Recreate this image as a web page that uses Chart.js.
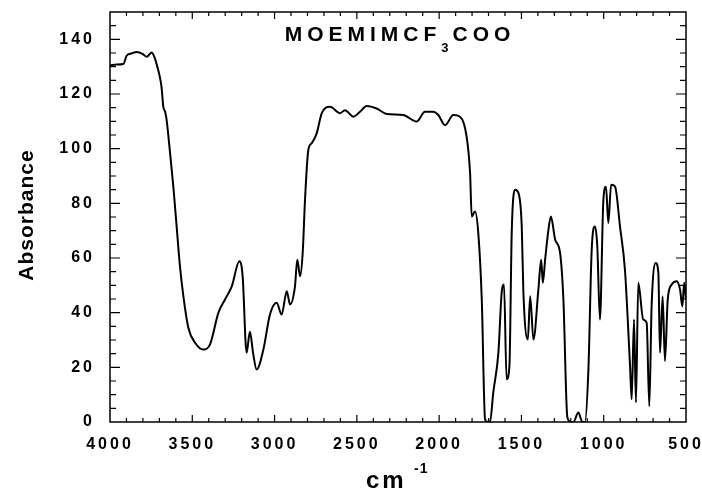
<!DOCTYPE html>
<html>
<head>
<meta charset="utf-8">
<script src="https://cdn.jsdelivr.net/npm/chart.js@4"></script>
<style>
  html, body { margin: 0; padding: 0; background: #fff; }
  #wrap { width: 702px; height: 492px; }
</style>
</head>
<body>
<div id="wrap"><canvas id="chartIR"></canvas></div>
<script>
// ===== DADOS =====
const wavenumbers = [4000, 3960, 3919, 3899, 3870, 3838, 3800, 3777, 3747, 3730, 3717, 3700, 3687, 3676, 3665, 3656,
  3635, 3615, 3595, 3575, 3554, 3524, 3483, 3433, 3392, 3341, 3301, 3260, 3214, 3194, 3170, 3150, 3130, 3109,
  3068, 3028, 2987, 2957, 2926, 2906, 2876, 2862, 2845, 2829, 2815, 2795, 2774, 2744, 2713, 2663, 2602, 2572,
  2521, 2481, 2440, 2380, 2319, 2218, 2137, 2086, 2035, 2005, 1964, 1914, 1873, 1833, 1812, 1802, 1782, 1762,
  1741, 1721, 1705, 1691, 1671, 1640, 1620, 1606, 1590, 1573, 1559, 1539, 1518, 1498, 1488, 1461, 1447, 1427,
  1397, 1380, 1370, 1356, 1336, 1321, 1295, 1265, 1245, 1221, 1200, 1184, 1154, 1130, 1114, 1093, 1073, 1053,
  1039, 1023, 1002, 986, 972, 955, 931, 901, 871, 840, 830, 816, 804, 790, 760, 739, 723, 709, 684, 668, 658,
  642, 628, 611, 587, 557, 536, 522, 511, 500];
const absorbance = [130.5, 130.8, 131, 134, 134.8, 135.4, 134.6, 133.6, 135.2, 133.5, 131, 127, 122.6, 115.3, 113.5, 110.5,
  98.4, 86, 71.5, 57, 46, 34.5, 29, 26.5, 28.4, 40, 44.8, 49.6, 58.8, 53.3, 25.3, 33, 25, 19.2,
  26.5, 39.3, 43.6, 39.3, 47.8, 43, 49.6, 59.4, 53.3, 62, 81.3, 99.5, 102, 105.6, 113, 115.3, 113, 114.1,
  111.7, 113.5, 115.6, 114.7, 112.7, 112.3, 109.9, 113.5, 113.5, 112.3, 108.6, 112.3, 111.7, 104.4, 91, 75.2, 77, 69,
  44.8, 1, 0, 0, 10.8, 25.4, 47.3, 50.3, 15.6, 20.4, 69.2, 85, 83.8, 71.5, 47.3, 30.2, 46, 30.2,
  48.4, 59.4, 50.9, 59.4, 70.3, 75.2, 66.7, 61.8, 44.8, 1.7, 0, 0, 3.5, 0, 0, 19.2, 63, 71.5,
  64.2, 37.5, 81.3, 86.1, 72.8, 86.8, 86.1, 71.5, 55.7, 20.4, 8.3, 37.5, 7.1, 50.9, 37.5, 36.3, 5.8, 42.3, 58.2, 54.5, 25.3,
  46, 22.3, 44.8, 50.3, 51.5, 48.4, 42.3, 50.9, 44.8];
const xTicks = [4000, 3500, 3000, 2500, 2000, 1500, 1000, 500];
const yTicks = [0, 20, 40, 60, 80, 100, 120, 140];
const titleMain = 'MOEMIMCF';
const titleSub = '3';
const titleEnd = 'COO';

const FONT = '"Liberation Sans", Arial, sans-serif';

// ===== MOLDURA, MARCAS E TEXTOS =====
const framePlugin = {
  id: 'framePlugin',
  beforeUpdate(chart) { chart.ctx.letterSpacing = '3px'; },
  beforeDraw(chart) {
    const ctx = chart.ctx;
    ctx.save();
    ctx.fillStyle = '#fff';
    ctx.fillRect(0, 0, chart.width, chart.height);
    ctx.restore();
    ctx.letterSpacing = '3px';
  },
  afterDraw(chart) {
    const ctx = chart.ctx;
    const a = chart.chartArea;
    const xs = chart.scales.x;
    const ys = chart.scales.y;
    ctx.save();
    ctx.letterSpacing = '0px';
    ctx.strokeStyle = '#000';
    ctx.lineWidth = 1.5;
    ctx.strokeRect(a.left, a.top, a.right - a.left, a.bottom - a.top);

    ctx.lineWidth = 1.2;
    ctx.beginPath();
    for (let v = 600; v < 4000; v += 100) {
      const px = xs.getPixelForValue(v);
      const len = v % 500 === 0 ? 7 : 4;
      ctx.moveTo(px, a.bottom); ctx.lineTo(px, a.bottom - len);
      ctx.moveTo(px, a.top); ctx.lineTo(px, a.top + len);
    }
    for (let v = 5; v < 150; v += 5) {
      const py = ys.getPixelForValue(v);
      const len = v % 20 === 0 ? 10 : 6;
      ctx.moveTo(a.left, py); ctx.lineTo(a.left + len, py);
      ctx.moveTo(a.right, py); ctx.lineTo(a.right - len, py);
    }
    ctx.stroke();

    ctx.fillStyle = '#000';
    ctx.textBaseline = 'alphabetic';

    // titulo dentro do grafico
    ctx.font = 'bold 21px ' + FONT;
    ctx.letterSpacing = '5px';
    const w1 = ctx.measureText(titleMain).width;
    const w3 = ctx.measureText(titleEnd).width;
    ctx.font = 'bold 13px ' + FONT;
    ctx.letterSpacing = '0px';
    const w2 = ctx.measureText(titleSub).width + 4;
    let tx = (a.left + a.right) / 2 + 2 - (w1 + w2 + w3) / 2;
    ctx.font = 'bold 21px ' + FONT;
    ctx.letterSpacing = '5px';
    ctx.textAlign = 'left';
    ctx.fillText(titleMain, tx, 41);
    tx += w1;
    ctx.font = 'bold 13px ' + FONT;
    ctx.letterSpacing = '0px';
    ctx.fillText(titleSub, tx, 52);
    tx += w2;
    ctx.font = 'bold 21px ' + FONT;
    ctx.letterSpacing = '5px';
    ctx.fillText(titleEnd, tx, 41);

    // titulo eixo x: cm^-1
    ctx.font = 'bold 24px ' + FONT;
    ctx.letterSpacing = '3px';
    ctx.fillText('cm', 366, 488);
    ctx.font = 'bold 14px ' + FONT;
    ctx.letterSpacing = '1px';
    ctx.fillText('-1', 414, 473);

    // titulo eixo y
    ctx.translate(33, 215);
    ctx.rotate(-Math.PI / 2);
    ctx.font = 'bold 21px ' + FONT;
    ctx.letterSpacing = '1px';
    ctx.textAlign = 'center';
    ctx.fillText('Absorbance', 0, 0);
    ctx.restore();
  }
};

window.addEventListener('load', function() {
  const ctxIR = document.getElementById('chartIR').getContext('2d');
  new Chart(ctxIR, {
    type: 'line',
    data: {
      datasets: [{
        data: wavenumbers.map((w, i) => ({ x: w, y: absorbance[i] })),
        borderColor: '#000',
        borderWidth: 2,
        pointRadius: 0,
        fill: false,
        cubicInterpolationMode: 'monotone'
      }]
    },
    options: {
      responsive: true,
      maintainAspectRatio: false,
      animation: false,
      events: [],
      layout: { padding: { top: 12, right: 16, left: 0, bottom: 0 } },
      plugins: { legend: { display: false }, tooltip: { enabled: false } },
      scales: {
        x: {
          type: 'linear',
          reverse: true,
          min: 500,
          max: 4000,
          afterBuildTicks: (s) => { s.ticks = xTicks.map(v => ({ value: v })); },
          afterFit: (s) => { s.height = 70; s.paddingLeft = 0; s.paddingRight = 0; },
          grid: { display: false, drawTicks: false },
          border: { display: false },
          ticks: {
            color: '#000', padding: 13, maxRotation: 0, autoSkip: false,
            font: { family: FONT, size: 16, weight: 'bold' },
            callback: (v) => String(v)
          }
        },
        y: {
          min: 0,
          max: 150,
          afterBuildTicks: (s) => { s.ticks = yTicks.map(v => ({ value: v })); },
          afterFit: (s) => { s.width = 110; s.paddingTop = 0; s.paddingBottom = 0; },
          grid: { display: false, drawTicks: false },
          border: { display: false },
          ticks: { color: '#000', padding: 15, font: { family: FONT, size: 16, weight: 'bold' } }
        }
      }
    },
    plugins: [framePlugin]
  });
});
</script>
</body>
</html>
